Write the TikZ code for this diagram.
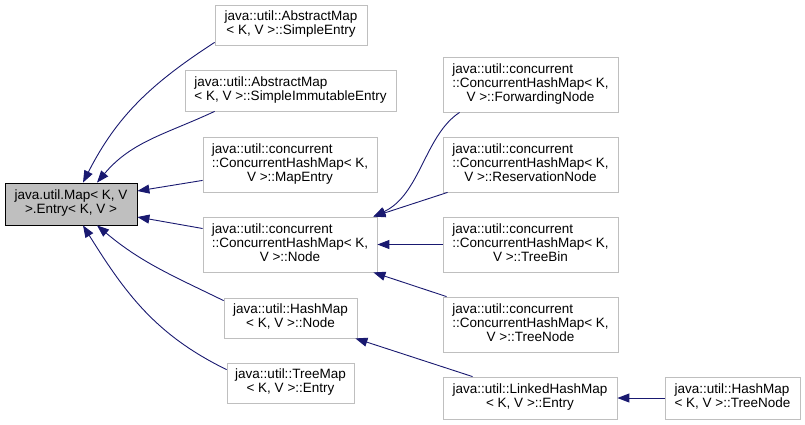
\documentclass[tikz,border=0pt]{standalone}
\usepackage{fontspec}
\setmainfont{Liberation Sans}
\usetikzlibrary{arrows.meta,calc,positioning}
\definecolor{edgeblue}{HTML}{191970}
\definecolor{boxgray}{HTML}{BFBFBF}
\newcommand{\cls}[2]{\begin{tabular}{@{}l@{}}#1\\\multicolumn{1}{@{}c@{}}{#2}\end{tabular}}

\begin{document}
\begin{tikzpicture}[x=1pt,y=1pt,
every node/.style={rectangle,draw=boxgray,line width=0.8pt,inner sep=2pt,
  font=\fontsize{13.5}{14}\selectfont},
base/.style={draw=black,fill=boxgray},
edge/.style={draw=edgeblue,line width=0.9pt,-{Triangle[length=12pt,width=9pt]}}]
\useasboundingbox (0,0) rectangle (805,-424);
\node[base,minimum width=132,minimum height=42] (A0) at (71,-204) {\cls{java.util.Map< K, V}{>.Entry< K, V >}};
\node[minimum width=152,minimum height=40] (B1) at (291,-25) {\cls{java::util::AbstractMap}{< K, V >::SimpleEntry}};
\node[minimum width=211,minimum height=41] (B2) at (290.5,-90.5) {\cls{java::util::AbstractMap}{< K, V >::SimpleImmutableEntry}};
\node[minimum width=174,minimum height=55] (B3) at (290,-164.5) {\cls{java::util::concurrent\\::ConcurrentHashMap< K,}{V >::MapEntry}};
\node[minimum width=174,minimum height=55] (B4) at (290,-244.5) {\cls{java::util::concurrent\\::ConcurrentHashMap< K,}{V >::Node}};
\node[minimum width=133,minimum height=40] (B5) at (290.5,-318) {\cls{java::util::HashMap}{< K, V >::Node}};
\node[minimum width=127,minimum height=40] (B6) at (290.5,-383) {\cls{java::util::TreeMap}{< K, V >::Entry}};
\node[minimum width=175,minimum height=55] (C1) at (530.5,-84.5) {\cls{java::util::concurrent\\::ConcurrentHashMap< K,}{V >::ForwardingNode}};
\node[minimum width=175,minimum height=55] (C2) at (530.5,-164.5) {\cls{java::util::concurrent\\::ConcurrentHashMap< K,}{V >::ReservationNode}};
\node[minimum width=175,minimum height=55] (C3) at (530.5,-244.5) {\cls{java::util::concurrent\\::ConcurrentHashMap< K,}{V >::TreeBin}};
\node[minimum width=175,minimum height=55] (C4) at (530.5,-324.5) {\cls{java::util::concurrent\\::ConcurrentHashMap< K,}{V >::TreeNode}};
\node[minimum width=174,minimum height=42] (D1) at (530,-398) {\cls{java::util::LinkedHashMap}{< K, V >::Entry}};
\node[minimum width=135,minimum height=42] (D2) at (732.5,-398) {\cls{java::util::HashMap}{< K, V >::TreeNode}};
\draw[edge] ([yshift=3pt]B1.south west) to[out=213,in=63] ([xshift=12pt]A0.north);
\draw[edge] ([xshift=30pt]B2.south west) to[out=205,in=50] ([xshift=26pt]A0.north);
\draw[edge] ([yshift=12pt]B3.south west) -- ([yshift=13pt]A0.east);
\draw[edge] ([yshift=16pt]B4.west) -- ([yshift=-13pt]A0.east);
\draw[edge] ([yshift=-3pt]B5.north west) to[out=154,in=-40] ([xshift=26pt]A0.south);
\draw[edge] ([yshift=-7pt]B6.north west) to[out=154,in=-58] ([xshift=12pt]A0.south);
\draw[edge] ([xshift=17pt]C1.south west) .. controls +(-35,-23) and +(47,22) .. ([xshift=-4pt]B4.north east);
\draw[edge] ([xshift=5pt]C2.south west) -- ([xshift=-4pt]B4.north east);
\draw[edge] (C3) -- (B4);
\draw[edge] ([xshift=4pt]C4.north west) -- ([xshift=-4pt]B4.south east);
\draw[edge] ([xshift=30pt]D1.north west) -- ([xshift=-2pt]B5.south east);
\draw[edge] (D2) -- (D1);
\end{tikzpicture}
\end{document}
